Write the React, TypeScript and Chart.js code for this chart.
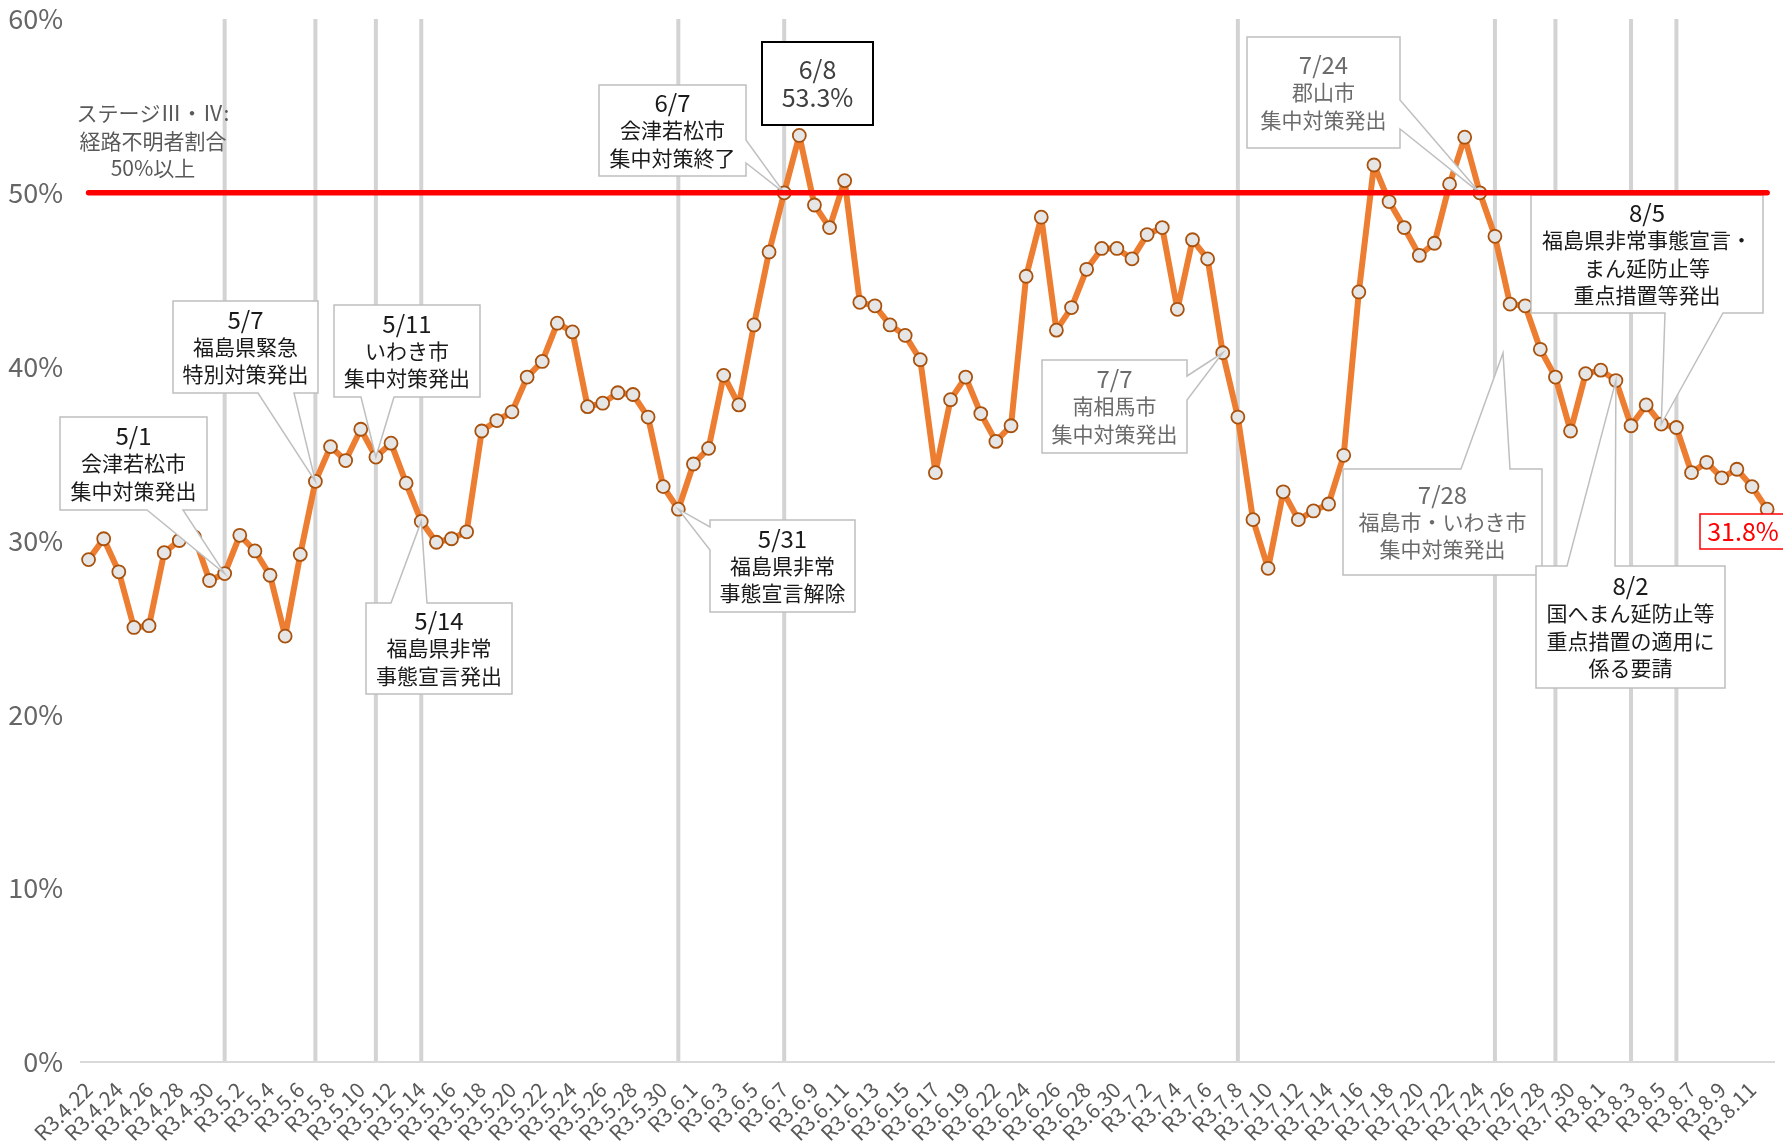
import React, { useEffect, useRef } from 'react';
import { Chart, registerables } from 'chart.js';

Chart.register(...registerables);

// ---------- data ----------
const CATEGORIES = [
  'R3.4.22', 'R3.4.23', 'R3.4.24', 'R3.4.25', 'R3.4.26', 'R3.4.27', 'R3.4.28', 'R3.4.29', 'R3.4.30',
  'R3.5.1', 'R3.5.2', 'R3.5.3', 'R3.5.4', 'R3.5.5', 'R3.5.6', 'R3.5.7', 'R3.5.8', 'R3.5.9', 'R3.5.10',
  'R3.5.11', 'R3.5.12', 'R3.5.13', 'R3.5.14', 'R3.5.15', 'R3.5.16', 'R3.5.17', 'R3.5.18', 'R3.5.19', 'R3.5.20',
  'R3.5.21', 'R3.5.22', 'R3.5.23', 'R3.5.24', 'R3.5.25', 'R3.5.26', 'R3.5.27', 'R3.5.28', 'R3.5.29', 'R3.5.30',
  'R3.5.31',
  'R3.6.1', 'R3.6.2', 'R3.6.3', 'R3.6.4', 'R3.6.5', 'R3.6.6', 'R3.6.7', 'R3.6.8', 'R3.6.9', 'R3.6.10',
  'R3.6.11', 'R3.6.12', 'R3.6.13', 'R3.6.14', 'R3.6.15', 'R3.6.16', 'R3.6.17', 'R3.6.18', 'R3.6.19',
  'R3.6.21', 'R3.6.22', 'R3.6.23', 'R3.6.24', 'R3.6.25', 'R3.6.26', 'R3.6.27', 'R3.6.28', 'R3.6.29', 'R3.6.30',
  'R3.7.1', 'R3.7.2', 'R3.7.3', 'R3.7.4', 'R3.7.5', 'R3.7.6', 'R3.7.7', 'R3.7.8', 'R3.7.9', 'R3.7.10',
  'R3.7.11', 'R3.7.12', 'R3.7.13', 'R3.7.14', 'R3.7.15', 'R3.7.16', 'R3.7.17', 'R3.7.18', 'R3.7.19', 'R3.7.20',
  'R3.7.21', 'R3.7.22', 'R3.7.23', 'R3.7.24', 'R3.7.25', 'R3.7.26', 'R3.7.27', 'R3.7.28', 'R3.7.29', 'R3.7.30',
  'R3.7.31',
  'R3.8.1', 'R3.8.2', 'R3.8.3', 'R3.8.4', 'R3.8.5', 'R3.8.6', 'R3.8.7', 'R3.8.8', 'R3.8.9', 'R3.8.10',
  'R3.8.11', 'R3.8.12',
];

// 経路不明者割合 (%)
const RATIO = [
  28.9, 30.1, 28.2, 25.0, 25.1, 29.3, 30.0, 30.2, 27.7,
  28.1, 30.3, 29.4, 28.0, 24.5, 29.2, 33.4, 35.4, 34.6, 36.4,
  34.8, 35.6, 33.3, 31.1, 29.9, 30.1, 30.5, 36.3, 36.9, 37.4,
  39.4, 40.3, 42.5, 42.0, 37.7, 37.9, 38.5, 38.4, 37.1, 33.1,
  31.8,
  34.4, 35.3, 39.5, 37.8, 42.4, 46.6, 50.0, 53.3, 49.3, 48.0,
  50.7, 43.7, 43.5, 42.4, 41.8, 40.4, 33.9, 38.1, 39.4,
  37.3, 35.7, 36.6, 45.2, 48.6, 42.1, 43.4, 45.6, 46.8, 46.8,
  46.2, 47.6, 48.0, 43.3, 47.3, 46.2, 40.8, 37.1, 31.2, 28.4,
  32.8, 31.2, 31.7, 32.1, 34.9, 44.3, 51.6, 49.5, 48.0, 46.4,
  47.1, 50.5, 53.2, 50.0, 47.5, 43.6, 43.5, 41.0, 39.4, 36.3,
  39.6,
  39.8, 39.2, 36.6, 37.8, 36.7, 36.5, 33.9, 34.5, 33.6, 34.1,
  33.1, 31.8,
];

const THRESHOLD = 50; // ステージⅢ・Ⅳ
const THRESHOLD_LABEL = ['ステージⅢ・Ⅳ:', '経路不明者割合', '50%以上'];
const Y_MIN = 0;
const Y_MAX = 60;
const Y_STEP = 10;

// categories with a vertical event line
const EVENT_LINE_INDEX = [9, 15, 19, 22, 39, 46, 76, 93, 97, 102, 105];

// callout texts and the category they point to
const CALLOUT_TEXTS = [
  { lines: ['5/1', '会津若松市', '集中対策発出'], target: 9 },
  { lines: ['5/7', '福島県緊急', '特別対策発出'], target: 15 },
  { lines: ['5/11', 'いわき市', '集中対策発出'], target: 19 },
  { lines: ['5/14', '福島県非常', '事態宣言発出'], target: 22 },
  { lines: ['5/31', '福島県非常', '事態宣言解除'], target: 39 },
  { lines: ['6/7', '会津若松市', '集中対策終了'], target: 46 },
  { lines: ['7/7', '南相馬市', '集中対策発出'], target: 75 },
  { lines: ['7/24', '郡山市', '集中対策発出'], target: 92 },
  { lines: ['7/28', '福島市・いわき市', '集中対策発出'], target: -1 },
  { lines: ['8/5', '福島県非常事態宣言・', 'まん延防止等', '重点措置等発出'], target: 104 },
  { lines: ['8/2', '国へまん延防止等', '重点措置の適用に', '係る要請'], target: 101 },
];
const PEAK_LINES = ['6/8', '53.3%'];
const LAST_INDEX = RATIO.length - 1;
const LAST_LABEL = '31.8%';

// ---------- layout (pixels) ----------
type Side = 'top' | 'bottom' | 'left' | 'right';
const CALLOUT_LAYOUT: { box: number[]; side: Side; a: number; b: number; color: string; tip?: number[] }[] = [
  { box: [60, 417, 207, 510], side: 'bottom', a: 147, b: 183, color: '#1a1a1a' },
  { box: [173, 301, 318, 393], side: 'bottom', a: 258, b: 294, color: '#1a1a1a' },
  { box: [334, 305, 480, 397], side: 'bottom', a: 361, b: 394, color: '#1a1a1a' },
  { box: [366, 603, 512, 694], side: 'top', a: 391, b: 427, color: '#1a1a1a' },
  { box: [710, 520, 855, 612], side: 'left', a: 527, b: 550, color: '#1a1a1a' },
  { box: [599, 85, 746, 176], side: 'right', a: 140, b: 163, color: '#1a1a1a' },
  { box: [1042, 360, 1187, 453], side: 'right', a: 376, b: 400, color: '#6b6b6b' },
  { box: [1247, 37, 1400, 148], side: 'right', a: 100, b: 129, color: '#6b6b6b' },
  { box: [1343, 469, 1542, 575], side: 'top', a: 1461, b: 1510, color: '#6b6b6b', tip: [1503, 353] },
  { box: [1531, 195, 1763, 313], side: 'bottom', a: 1665, b: 1723, color: '#1a1a1a' },
  { box: [1536, 566, 1725, 688], side: 'top', a: 1567, b: 1615, color: '#1a1a1a' },
];
const PEAK_BOX = [762, 42, 873, 125];
const LAST_BOX = [1700, 514, 1795, 549];
const THRESHOLD_LABEL_POS = [153, 141];
const LINE_H = 27.5;
const FONT = "'Noto Sans CJK JP', 'Noto Sans', sans-serif";

function wedgePath(ctx: CanvasRenderingContext2D, box: number[], side: Side, a: number, b: number, tip: number[] | null) {
  const [x1, y1, x2, y2] = box;
  ctx.beginPath();
  ctx.moveTo(x1, y1);
  if (tip && side === 'top') { ctx.lineTo(a, y1); ctx.lineTo(tip[0], tip[1]); ctx.lineTo(b, y1); }
  ctx.lineTo(x2, y1);
  if (tip && side === 'right') { ctx.lineTo(x2, a); ctx.lineTo(tip[0], tip[1]); ctx.lineTo(x2, b); }
  ctx.lineTo(x2, y2);
  if (tip && side === 'bottom') { ctx.lineTo(b, y2); ctx.lineTo(tip[0], tip[1]); ctx.lineTo(a, y2); }
  ctx.lineTo(x1, y2);
  if (tip && side === 'left') { ctx.lineTo(x1, b); ctx.lineTo(tip[0], tip[1]); ctx.lineTo(x1, a); }
  ctx.closePath();
}

// first line (date / number) slightly larger, like the reference
function drawLines(ctx: CanvasRenderingContext2D, lines: string[], cx: number, cy: number, color: string, firstSize = 24, size = 21) {
  ctx.fillStyle = color;
  ctx.textAlign = 'center';
  ctx.textBaseline = 'middle';
  const n = lines.length;
  lines.forEach((t, i) => {
    ctx.font = `${i === 0 ? firstSize : size}px ${FONT}`;
    ctx.fillText(t, cx, cy + (i - (n - 1) / 2) * LINE_H);
  });
}

const overlayPlugin = {
  id: 'overlay',
  beforeDatasetsDraw(chart: any) {
    const { ctx, chartArea, scales } = chart;
    const x = scales.x;
    ctx.save();
    ctx.strokeStyle = '#D3D3D3';
    ctx.lineWidth = 4;
    for (const i of EVENT_LINE_INDEX) {
      const px = x.getPixelForValue(i);
      ctx.beginPath();
      ctx.moveTo(px, chartArea.top);
      ctx.lineTo(px, chartArea.bottom - 1);
      ctx.stroke();
    }
    ctx.restore();
  },
  afterDatasetsDraw(chart: any) {
    const { ctx, scales } = chart;
    const x = scales.x;
    const y = scales.y;
    ctx.save();

    // callouts
    CALLOUT_TEXTS.forEach((c, k) => {
      const L = CALLOUT_LAYOUT[k];
      const tip = c.target >= 0 ? [x.getPixelForValue(c.target), y.getPixelForValue(RATIO[c.target])] : (L.tip as number[]);
      wedgePath(ctx, L.box, L.side, L.a, L.b, tip);
      ctx.fillStyle = '#FFFFFF';
      ctx.fill();
      ctx.strokeStyle = '#BFBFBF';
      ctx.lineWidth = 1.5;
      ctx.lineJoin = 'miter';
      ctx.stroke();
      const [x1, y1, x2, y2] = L.box;
      drawLines(ctx, c.lines, (x1 + x2) / 2, (y1 + y2) / 2, L.color);
    });

    // threshold line
    const ty = y.getPixelForValue(THRESHOLD);
    ctx.beginPath();
    ctx.moveTo(x.getPixelForValue(0), ty);
    ctx.lineTo(x.getPixelForValue(LAST_INDEX), ty);
    ctx.strokeStyle = '#FF0000';
    ctx.lineWidth = 5.5;
    ctx.lineCap = 'round';
    ctx.stroke();
    ctx.lineCap = 'butt';

    drawLines(ctx, THRESHOLD_LABEL, THRESHOLD_LABEL_POS[0], THRESHOLD_LABEL_POS[1], '#595959', 21, 21);

    // peak label
    {
      const [x1, y1, x2, y2] = PEAK_BOX;
      ctx.fillStyle = '#FFFFFF';
      ctx.fillRect(x1, y1, x2 - x1, y2 - y1);
      ctx.strokeStyle = '#000000';
      ctx.lineWidth = 2;
      ctx.strokeRect(x1, y1, x2 - x1, y2 - y1);
      drawLines(ctx, PEAK_LINES, (x1 + x2) / 2, (y1 + y2) / 2, '#404040', 25, 25);
    }
    // last value label
    {
      const [x1, y1, x2, y2] = LAST_BOX;
      ctx.fillStyle = '#FFFFFF';
      ctx.fillRect(x1, y1, x2 - x1, y2 - y1);
      ctx.strokeStyle = '#FF0000';
      ctx.lineWidth = 1.5;
      ctx.strokeRect(x1, y1, x2 - x1, y2 - y1);
      drawLines(ctx, [LAST_LABEL], 1743, (y1 + y2) / 2, '#FF0000', 25, 25);
    }
    ctx.restore();
  },
};

function zeroPadding(s: any) {
  s.paddingTop = 0;
  s.paddingBottom = 0;
  s.paddingLeft = 0;
  s.paddingRight = 0;
}

export default function App() {
  const ref = useRef<HTMLCanvasElement>(null);
  useEffect(() => {
    document.body.style.margin = '0';
    const canvas = ref.current as HTMLCanvasElement;
    Chart.defaults.font.family = FONT;
    const chart = new Chart(canvas, {
      type: 'line',
      data: {
        labels: CATEGORIES,
        datasets: [
          {
            data: RATIO,
            borderColor: '#ED7D31',
            borderWidth: 6,
            borderJoinStyle: 'round',
            pointRadius: 6.5,
            pointHoverRadius: 6.5,
            pointBackgroundColor: '#E7E6E6',
            pointBorderColor: '#A9520E',
            pointBorderWidth: 1.8,
            tension: 0,
            fill: false,
          },
        ],
      },
      options: {
        responsive: false,
        animation: false,
        devicePixelRatio: 1,
        layout: { padding: { top: 19, right: 7, bottom: 0, left: 0 } },
        plugins: { legend: { display: false }, tooltip: { enabled: false } },
        scales: {
          x: {
            type: 'category',
            offset: true,
            grid: { display: false },
            border: { display: true, color: '#D9D9D9', width: 2 },
            ticks: {
              autoSkip: false,
              minRotation: 45,
              maxRotation: 45,
              padding: 7,
              color: '#595959',
              font: { size: 21, family: FONT },
              callback: (_v: any, i: number) => (i % 2 === 0 ? CATEGORIES[i] : ''),
            },
            afterFit: (s: any) => { s.height = 86; zeroPadding(s); },
          },
          y: {
            min: Y_MIN,
            max: Y_MAX,
            grid: { display: false },
            border: { display: false },
            ticks: {
              stepSize: Y_STEP,
              padding: 10,
              color: '#666666',
              font: { size: 27, family: FONT },
              callback: (v: any) => `${v}%`,
            },
            afterFit: (s: any) => { s.width = 81; zeroPadding(s); },
          },
        },
      },
      plugins: [overlayPlugin],
    });
    return () => chart.destroy();
  }, []);
  return (
    <div style={{ width: 1783, height: 1148 }}>
      <canvas ref={ref} width={1783} height={1148} style={{ display: 'block' }} />
    </div>
  );
}
